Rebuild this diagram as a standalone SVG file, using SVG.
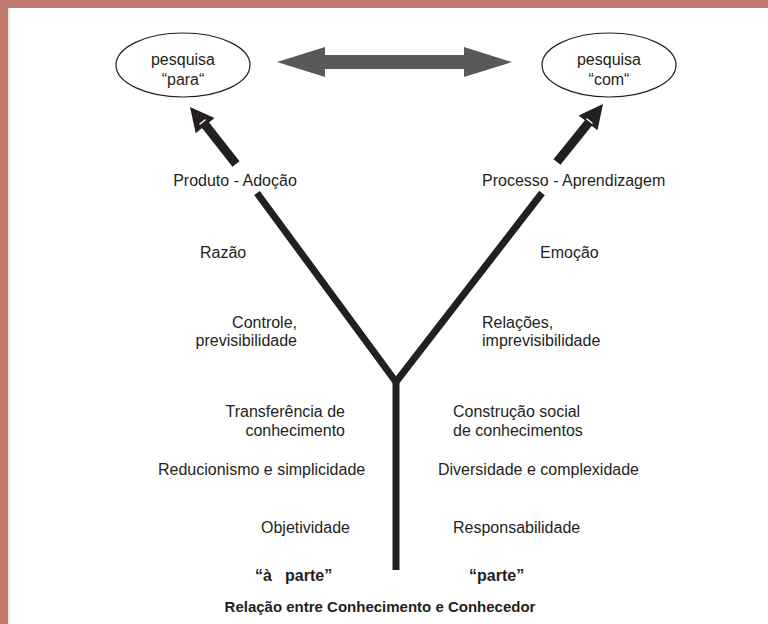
<svg xmlns="http://www.w3.org/2000/svg" width="768" height="624" viewBox="0 0 768 624">
<style>
.t{font-family:"Liberation Sans",Arial,Helvetica,sans-serif;font-size:16px;fill:#231f20}
.b{font-family:"Liberation Sans",Arial,Helvetica,sans-serif;font-size:15px;font-weight:bold;fill:#231f20}
.b16{font-size:16px}
.m{text-anchor:middle}
.e{text-anchor:end}
.ell{fill:#fff;stroke:#231f20;stroke-width:1.2}
.tree{stroke:#231f20;stroke-width:7;fill:none}
.shaft{stroke:#231f20;stroke-width:9;fill:none}
.head{fill:#231f20}
</style>
<rect x="0" y="0" width="768" height="624" fill="#fff"/>
<rect x="0" y="0" width="768" height="8" fill="#c07a6d"/>
<rect x="0" y="0" width="8" height="624" fill="#c07a6d"/>
<line x1="9" y1="8" x2="9" y2="624" stroke="#e8c8c2" stroke-width="1"/>

<g id="node-para">
<ellipse class="ell" cx="183" cy="65" rx="67" ry="32"/>
<text class="t m" x="183" y="65">pesquisa</text>
<text class="t m" x="183" y="85">“para“</text>
</g>
<g id="node-com">
<ellipse class="ell" cx="609" cy="65" rx="67" ry="32"/>
<text class="t m" x="609" y="65">pesquisa</text>
<text class="t m" x="609" y="85">“com“</text>
</g>

<g id="connectors">
<polygon id="double-arrow" fill="#58595b" points="277,62 325,47 325,55 464,55 464,47 512,62 464,77 464,69 325,69 325,77"/>
<line class="shaft" x1="236" y1="164" x2="203" y2="122"/>
<polygon class="head" points="190,107 214.5,118.1 195.7,133.3"/>
<line x1="200" y1="124" x2="205" y2="120" stroke="#fff" stroke-width="1.5" stroke-linecap="round"/>
<line class="shaft" x1="557" y1="162" x2="590" y2="121"/>
<polygon class="head" points="603,104 597.5,130.2 578.7,115.4"/>
<line x1="587" y1="119" x2="592" y2="123" stroke="#fff" stroke-width="1.5" stroke-linecap="round"/>
<polyline class="tree" points="257,193 396,382 542,193"/>
<line class="tree" x1="396" y1="380" x2="396" y2="570"/>
</g>

<g id="labels-left">
<text class="t m" x="235" y="186">Produto - Adoção</text>
<text class="t" x="200" y="258">Razão</text>
<text class="t e" x="297" y="328">Controle,</text>
<text class="t e" x="297" y="346">previsibilidade</text>
<text class="t e" x="345" y="417">Transferência de</text>
<text class="t e" x="345" y="436">conhecimento</text>
<text class="t" x="158" y="475">Reducionismo e simplicidade</text>
<text class="t" x="261" y="533">Objetividade</text>
<text class="b b16" x="255" y="581">“à<tspan x="285">parte”</tspan></text>
</g>
<g id="labels-right">
<text class="t" x="482" y="186">Processo - Aprendizagem</text>
<text class="t" x="540" y="258">Emoção</text>
<text class="t" x="482" y="328">Relações,</text>
<text class="t" x="482" y="346">imprevisibilidade</text>
<text class="t" x="453" y="417">Construção social</text>
<text class="t" x="453" y="436">de conhecimentos</text>
<text class="t" x="438" y="475">Diversidade e complexidade</text>
<text class="t" x="453" y="533">Responsabilidade</text>
<text class="b b16" x="469" y="581">“parte”</text>
</g>
<text id="caption" class="b m" x="380" y="612">Relação entre Conhecimento e Conhecedor</text>
</svg>
